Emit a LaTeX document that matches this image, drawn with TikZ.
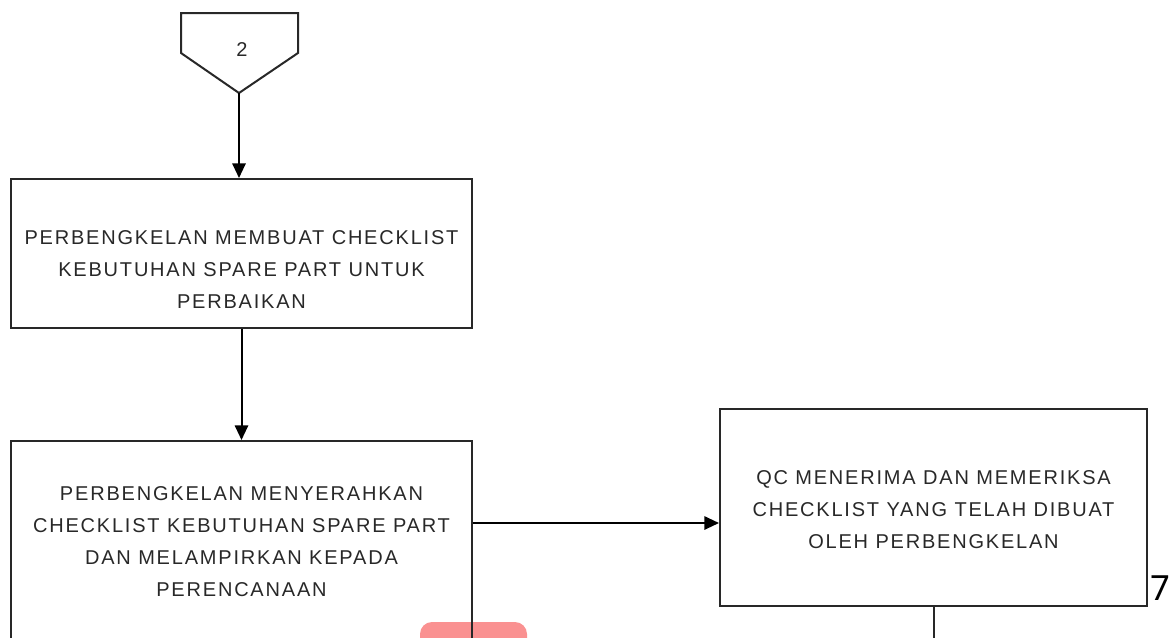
\documentclass[tikz,border=0pt]{standalone}
\usepackage{fontspec}
\setmainfont{Liberation Sans}[LetterSpace=9]
\newfontfamily\pagefont{Noto Sans}
\usetikzlibrary{arrows.meta}
\definecolor{blobred}{RGB}{250,145,145}
\definecolor{inkgray}{RGB}{40,40,40}

\begin{document}
\begin{tikzpicture}[x=0.75pt, y=-0.75pt,
		box_style/.style={rectangle,draw=inkgray,line width=1.5pt,inner sep=0pt},
		text_style/.style={align=center,text=inkgray,font=\fontsize{15}{24}\selectfont},
		edge_style/.style={draw=black,line width=1.5pt,-{Triangle[length=11pt,width=10pt]}},
		line_style/.style={draw=inkgray,line width=1.5pt}]

		\clip (0,0) rectangle (1171,637);

		% red mark at the page foot
		\fill[blobred, rounded corners=9pt] (420,622) rectangle (527,680);

		% off-page connector
		\draw[line_style] (181,13) -- (298,13) -- (298,53) -- (239,93) -- (181,53) -- cycle;
		\node[text_style] (off2) at (242,50) {2};
		\coordinate (off2tip) at (239,93);

		\node[box_style, minimum width=345.75pt, minimum height=111.75pt] (buat) at (241.5,253.5) {};
		\node[box_style, minimum width=345.75pt, minimum height=194.25pt] (serah) at (241.5,570.5) {};
		\node[box_style, minimum width=320.25pt, minimum height=147.75pt] (qc) at (933.5,507.5) {};

		\node[text_style] (buattext) at (241.5,270) {PERBENGKELAN MEMBUAT CHECKLIST\\KEBUTUHAN SPARE PART UNTUK\\PERBAIKAN};
		\node[text_style] (serahtext) at (241.5,541.5) {PERBENGKELAN MENYERAHKAN\\CHECKLIST KEBUTUHAN SPARE PART\\DAN MELAMPIRKAN KEPADA\\PERENCANAAN};
		\node[text_style] (qctext) at (933.5,509.5) {QC MENERIMA DAN MEMERIKSA\\CHECKLIST YANG TELAH DIBUAT\\OLEH PERBENGKELAN};

		\node[font=\pagefont\fontsize{26}{30}\selectfont] (pagenum) at (1160,588) {7};

		\coordinate (arrowrow) at (0,523);
		\coordinate (qcout) at (933.5,700);

		\draw[edge_style]  (off2tip) -- (off2tip |- buat.north);
		\draw[edge_style]  (buat.south) -- (serah.north);
		\draw[edge_style]  (serah.east |- arrowrow) -- (qc.west |- arrowrow);
		\draw[line_style]  (qc.south) -- (qcout);

\end{tikzpicture}
\end{document}
